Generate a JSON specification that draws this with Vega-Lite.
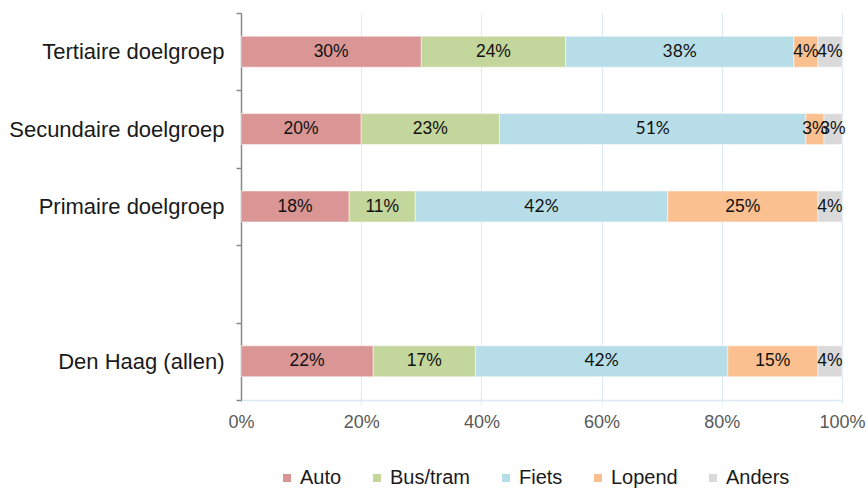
{
  "$schema": "https://vega.github.io/schema/vega-lite/v6.json",
  "width": 601,
  "height": 387,
  "autosize": {"type": "none"},
  "padding": {"left": 241, "top": 13, "right": 25, "bottom": 88},
  "background": "white",
  "config": {"view": {"stroke": null}, "font": "Liberation Sans"},
  "data": {"values": [
    {"groep": "Tertiaire doelgroep", "modus": "Auto", "o": 1, "v": 30, "lab": "30%"},
    {"groep": "Tertiaire doelgroep", "modus": "Bus/tram", "o": 2, "v": 24, "lab": "24%"},
    {"groep": "Tertiaire doelgroep", "modus": "Fiets", "o": 3, "v": 38, "lab": "38%"},
    {"groep": "Tertiaire doelgroep", "modus": "Lopend", "o": 4, "v": 4, "lab": "4%"},
    {"groep": "Tertiaire doelgroep", "modus": "Anders", "o": 5, "v": 4, "lab": "4%"},
    {"groep": "Secundaire doelgroep", "modus": "Auto", "o": 1, "v": 20, "lab": "20%"},
    {"groep": "Secundaire doelgroep", "modus": "Bus/tram", "o": 2, "v": 23, "lab": "23%"},
    {"groep": "Secundaire doelgroep", "modus": "Fiets", "o": 3, "v": 51, "lab": "51%"},
    {"groep": "Secundaire doelgroep", "modus": "Lopend", "o": 4, "v": 3, "lab": "3%"},
    {"groep": "Secundaire doelgroep", "modus": "Anders", "o": 5, "v": 3, "lab": "3%"},
    {"groep": "Primaire doelgroep", "modus": "Auto", "o": 1, "v": 18, "lab": "18%"},
    {"groep": "Primaire doelgroep", "modus": "Bus/tram", "o": 2, "v": 11, "lab": "11%"},
    {"groep": "Primaire doelgroep", "modus": "Fiets", "o": 3, "v": 42, "lab": "42%"},
    {"groep": "Primaire doelgroep", "modus": "Lopend", "o": 4, "v": 25, "lab": "25%"},
    {"groep": "Primaire doelgroep", "modus": "Anders", "o": 5, "v": 4, "lab": "4%"},
    {"groep": "Den Haag (allen)", "modus": "Auto", "o": 1, "v": 22, "lab": "22%"},
    {"groep": "Den Haag (allen)", "modus": "Bus/tram", "o": 2, "v": 17, "lab": "17%"},
    {"groep": "Den Haag (allen)", "modus": "Fiets", "o": 3, "v": 42, "lab": "42%"},
    {"groep": "Den Haag (allen)", "modus": "Lopend", "o": 4, "v": 15, "lab": "15%"},
    {"groep": "Den Haag (allen)", "modus": "Anders", "o": 5, "v": 4, "lab": "4%"}
  ]},
  "transform": [
    {"stack": "v", "groupby": ["groep"], "sort": [{"field": "o"}], "as": ["v0", "v1"]},
    {"calculate": "(datum.v0 + datum.v1) / 2", "as": "vm"}
  ],
  "encoding": {
    "y": {
      "field": "groep", "type": "nominal", "title": null,
      "scale": {"domain": ["Tertiaire doelgroep", "Secundaire doelgroep", "Primaire doelgroep", " ", "Den Haag (allen)"], "paddingInner": 0, "paddingOuter": 0},
      "axis": {"domainColor": "#898989", "domainWidth": 1.5, "tickColor": "#898989", "tickWidth": 1.5, "tickSize": 5, "tickBand": "extent", "labelFontSize": 22, "labelColor": "#1a1a1a", "labelPadding": 12, "labelLimit": 400, "grid": false}
    }
  },
  "layer": [
    {
      "mark": {"type": "bar", "height": {"band": 0.4}, "stroke": "white", "strokeWidth": 0.5},
      "encoding": {
        "x": {"field": "v0", "type": "quantitative", "scale": {"domain": [0, 100], "nice": false},
          "axis": {"title": null, "values": [0, 20, 40, 60, 80, 100], "labelExpr": "datum.value + '%'", "grid": true, "gridColor": "#dbe9f2", "domainColor": "#dbe9f2", "domainWidth": 1.5, "tickColor": "#dbe9f2", "tickSize": 4, "labelFontSize": 18, "labelColor": "#595959", "labelPadding": 9, "labelFlush": false}},
        "x2": {"field": "v1"},
        "color": {"field": "modus", "type": "nominal",
          "scale": {"domain": ["Auto", "Bus/tram", "Fiets", "Lopend", "Anders"], "range": ["#d99694", "#c3d69b", "#b7dee8", "#fac090", "#d9d9d9"]},
          "legend": {"title": null, "orient": "none", "legendX": 36, "legendY": 455, "direction": "horizontal", "columns": 5, "symbolType": "square", "symbolSize": 64, "symbolStrokeWidth": 0, "labelFontSize": 20, "labelColor": "#1a1a1a", "labelOffset": 3, "columnPadding": 25}
        }
      }
    },
    {
      "transform": [{"filter": "datum.modus != 'Fiets'"}],
      "mark": {"type": "text", "fontSize": 17.5, "color": "#111111", "align": "center", "baseline": "middle"},
      "encoding": {"x": {"field": "vm", "type": "quantitative"}, "text": {"field": "lab"}}
    },
    {
      "transform": [{"filter": "datum.modus == 'Fiets'"}],
      "mark": {"type": "text", "fontSize": 17.5, "font": "Lato", "color": "#111111", "align": "center", "baseline": "middle"},
      "encoding": {"x": {"field": "vm", "type": "quantitative"}, "text": {"field": "lab"}}
    }
  ]
}
